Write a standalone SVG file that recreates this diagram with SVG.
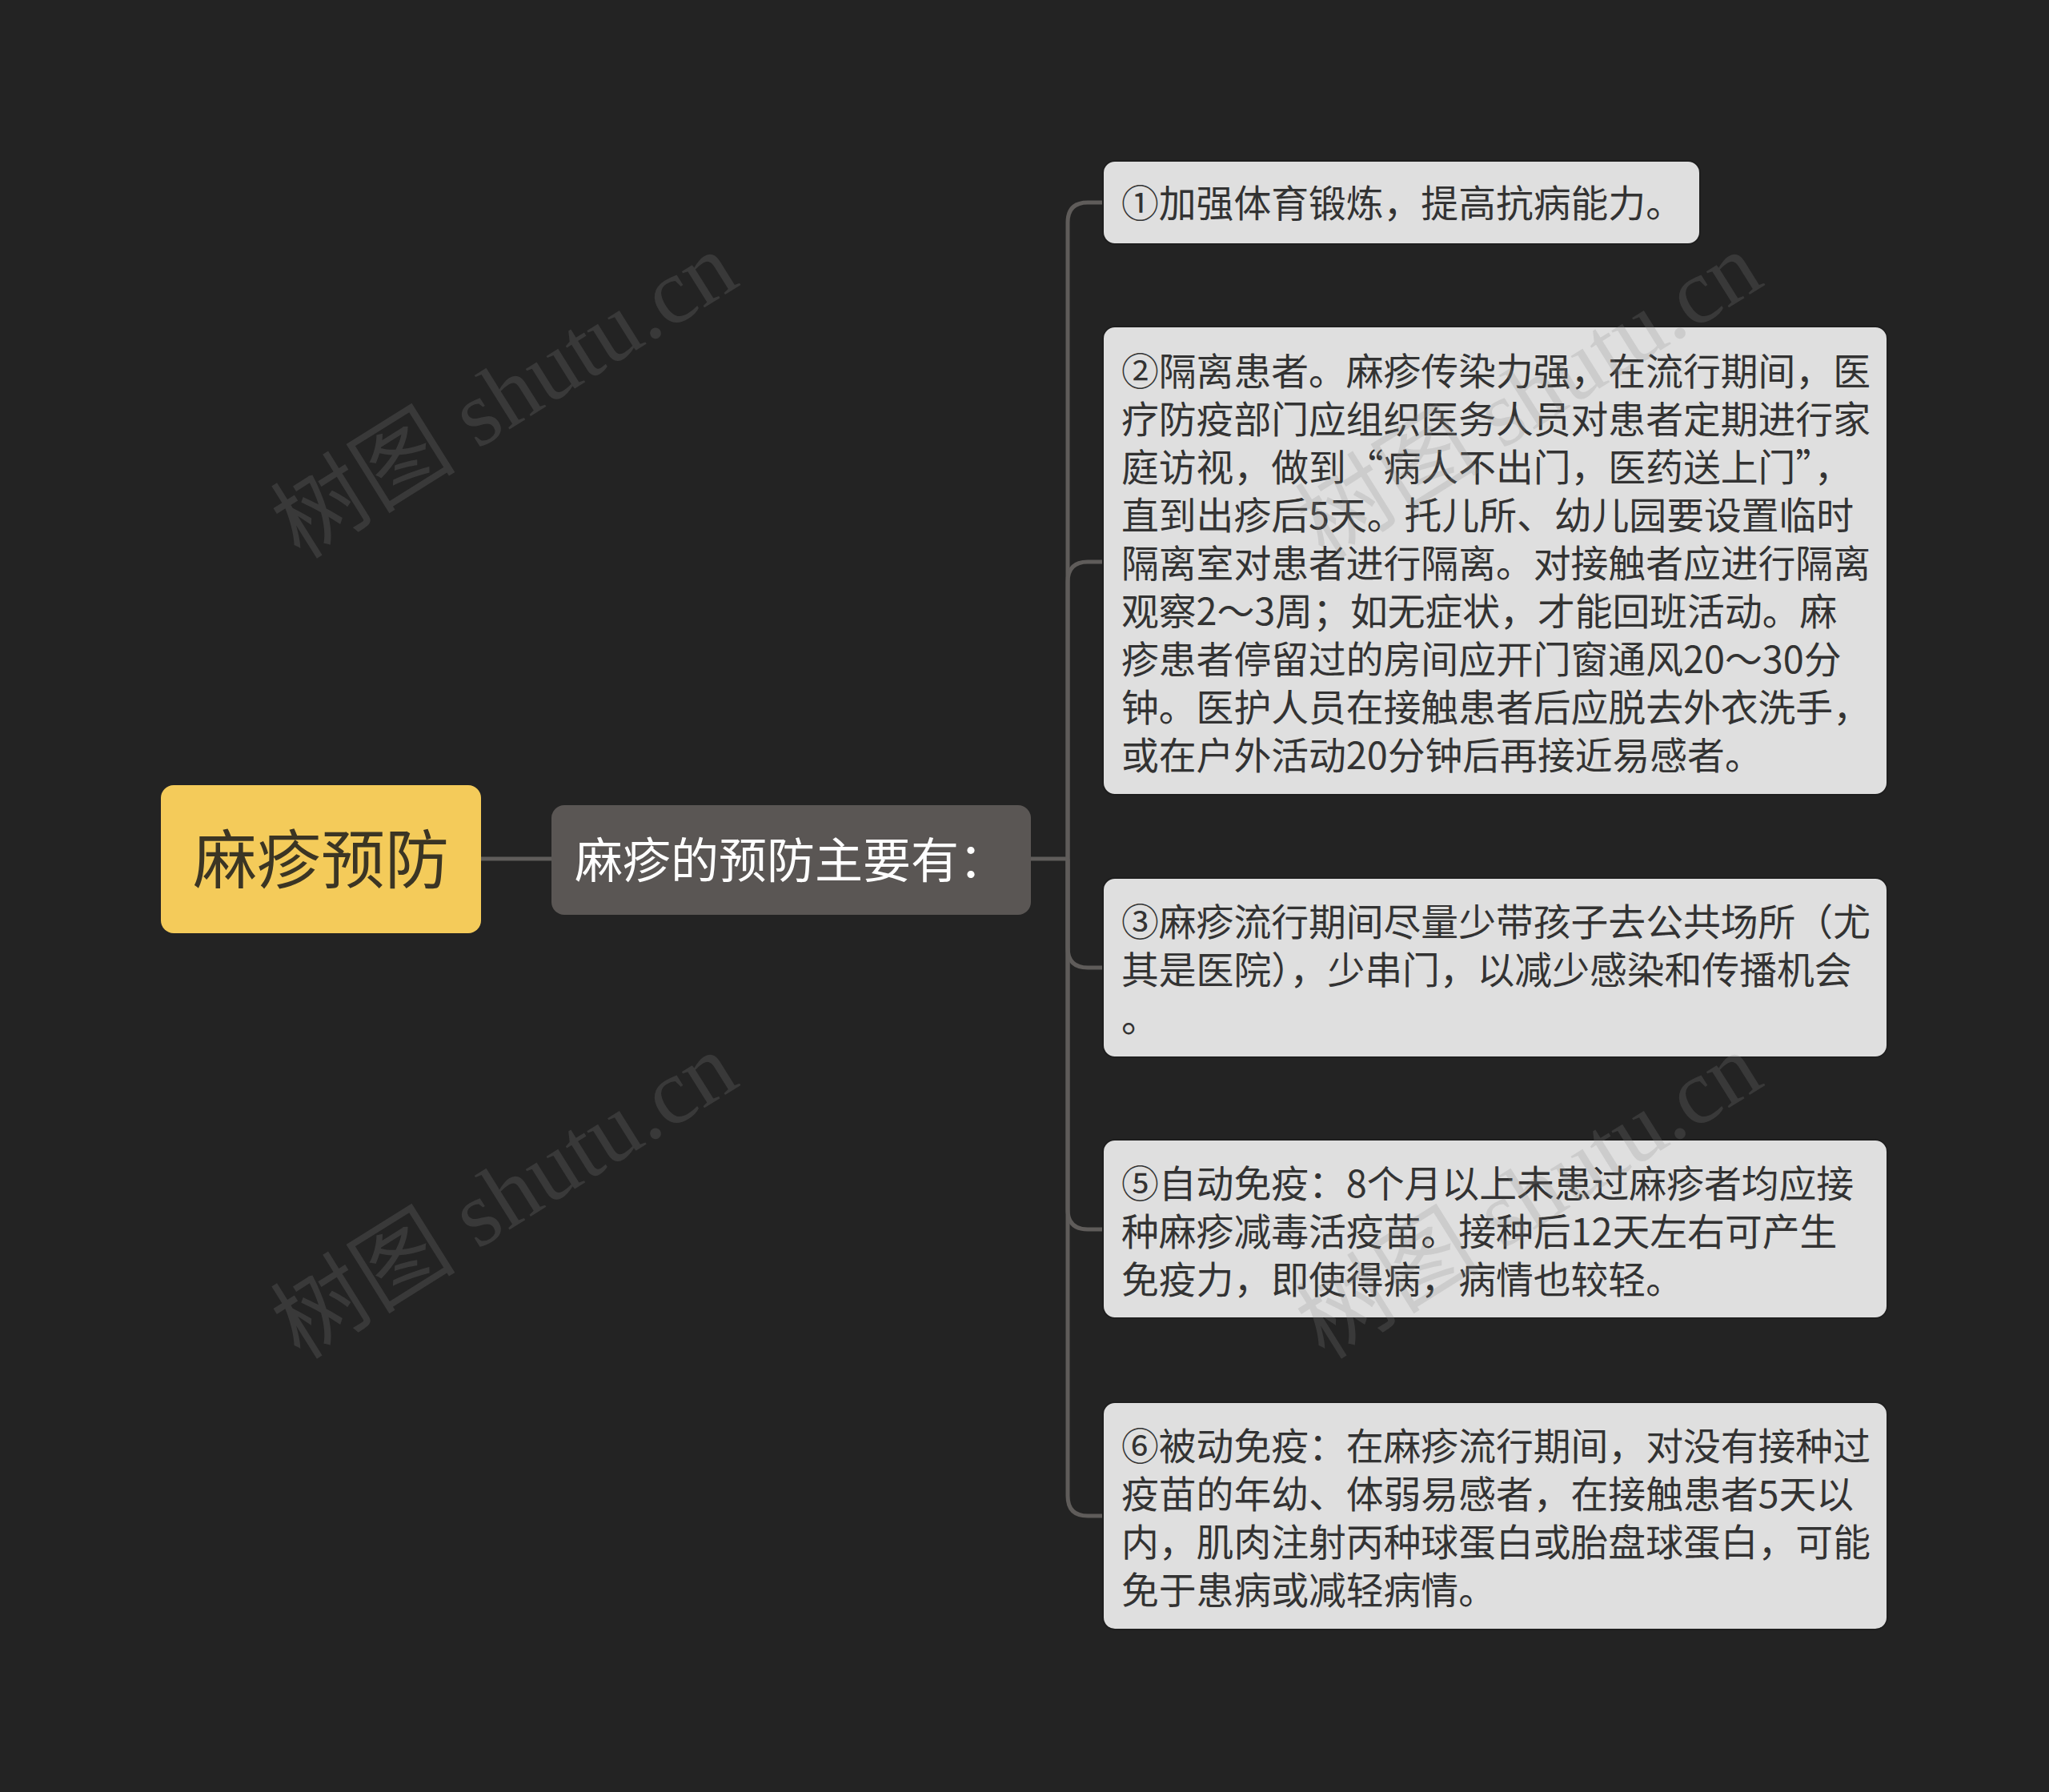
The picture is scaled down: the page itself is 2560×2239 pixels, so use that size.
<svg xmlns="http://www.w3.org/2000/svg" width="2560" height="2239" viewBox="0 0 2560 2239">
<style>
.bg{fill:#232323}
.conn{fill:none;stroke:#5f5c5a;stroke-width:5}
.leaf{fill:#dfdfdf;stroke:#1e1e1e;stroke-width:2}
.lt{font-family:"Noto Sans CJK SC","Noto Sans",sans-serif;font-size:46.8px;fill:#333333}
.wm{font-family:"Liberation Serif","Noto Sans CJK SC",serif;font-size:116px;fill:#888888;fill-opacity:0.22}
</style>
<rect class="bg" x="0" y="0" width="2560" height="2239"/>
<g id="connectors">
<path class="conn" d="M601 1073 H689"/>
<path class="conn" d="M1288 1073 H1334"/>
<path class="conn" d="M1334 1073 V278 Q1334 253 1359 253 H1378"/>
<path class="conn" d="M1334 1073 V727 Q1334 702 1359 702 H1378"/>
<path class="conn" d="M1334 1073 V1184 Q1334 1209 1359 1209 H1378"/>
<path class="conn" d="M1334 1073 V1511 Q1334 1536 1359 1536 H1378"/>
<path class="conn" d="M1334 1073 V1869 Q1334 1894 1359 1894 H1378"/>
</g>
<g id="root">
<rect x="201" y="981" width="400" height="185" rx="16" fill="#f4cb5a"/>
<text x="401" y="1103" text-anchor="middle" font-family="Noto Sans CJK SC, sans-serif" font-size="80" fill="#3b3524">麻疹预防</text>
</g>
<g id="main">
<rect x="689" y="1006" width="599" height="137" rx="16" fill="#5a5654"/>
<text x="718" y="1097" font-family="Noto Sans CJK SC, sans-serif" font-size="60" fill="#ffffff">麻疹的预防主要有：</text>
</g>
<g id="leaf1">
<rect class="leaf" x="1378" y="201" width="746" height="104" rx="15"/>
<text class="lt" x="1401" y="271">①加强体育锻炼，提高抗病能力。</text>
</g>
<g id="leaf2">
<rect class="leaf" x="1378" y="408" width="980" height="585" rx="15"/>
<text class="lt">
<tspan x="1401" y="481">②隔离患者。麻疹传染力强，在流行期间，医</tspan>
<tspan x="1401" y="541">疗防疫部门应组织医务人员对患者定期进行家</tspan>
<tspan x="1401" y="601">庭访视，做到“病人不出门，医药送上门”，</tspan>
<tspan x="1401" y="661">直到出疹后5天。托儿所、幼儿园要设置临时</tspan>
<tspan x="1401" y="721">隔离室对患者进行隔离。对接触者应进行隔离</tspan>
<tspan x="1401" y="781">观察2～3周；如无症状，才能回班活动。麻</tspan>
<tspan x="1401" y="841">疹患者停留过的房间应开门窗通风20～30分</tspan>
<tspan x="1401" y="901">钟。医护人员在接触患者后应脱去外衣洗手，</tspan>
<tspan x="1401" y="961">或在户外活动20分钟后再接近易感者。</tspan>
</text>
</g>
<g id="leaf3">
<rect class="leaf" x="1378" y="1097" width="980" height="224" rx="15"/>
<text class="lt">
<tspan x="1401" y="1169">③麻疹流行期间尽量少带孩子去公共场所（尤</tspan>
<tspan x="1401" y="1229">其是医院），少串门，以减少感染和传播机会</tspan>
<tspan x="1401" y="1289">。</tspan>
</text>
</g>
<g id="leaf5">
<rect class="leaf" x="1378" y="1424" width="980" height="223" rx="15"/>
<text class="lt">
<tspan x="1401" y="1496">⑤自动免疫：8个月以上未患过麻疹者均应接</tspan>
<tspan x="1401" y="1556">种麻疹减毒活疫苗。接种后12天左右可产生</tspan>
<tspan x="1401" y="1616">免疫力，即使得病，病情也较轻。</tspan>
</text>
</g>
<g id="leaf6">
<rect class="leaf" x="1378" y="1752" width="980" height="284" rx="15"/>
<text class="lt">
<tspan x="1401" y="1824">⑥被动免疫：在麻疹流行期间，对没有接种过</tspan>
<tspan x="1401" y="1884">疫苗的年幼、体弱易感者，在接触患者5天以</tspan>
<tspan x="1401" y="1944">内，肌肉注射丙种球蛋白或胎盘球蛋白，可能</tspan>
<tspan x="1401" y="2004">免于患病或减轻病情。</tspan>
</text>
</g>
<g id="watermarks">
<text class="wm" transform="translate(375 700) rotate(-32)">树图 shutu.cn</text>
<text class="wm" transform="translate(375 1700) rotate(-32)">树图 shutu.cn</text>
<text class="wm" transform="translate(1655 700) rotate(-32)">树图 shutu.cn</text>
<text class="wm" transform="translate(1655 1700) rotate(-32)">树图 shutu.cn</text>
</g>
</svg>
